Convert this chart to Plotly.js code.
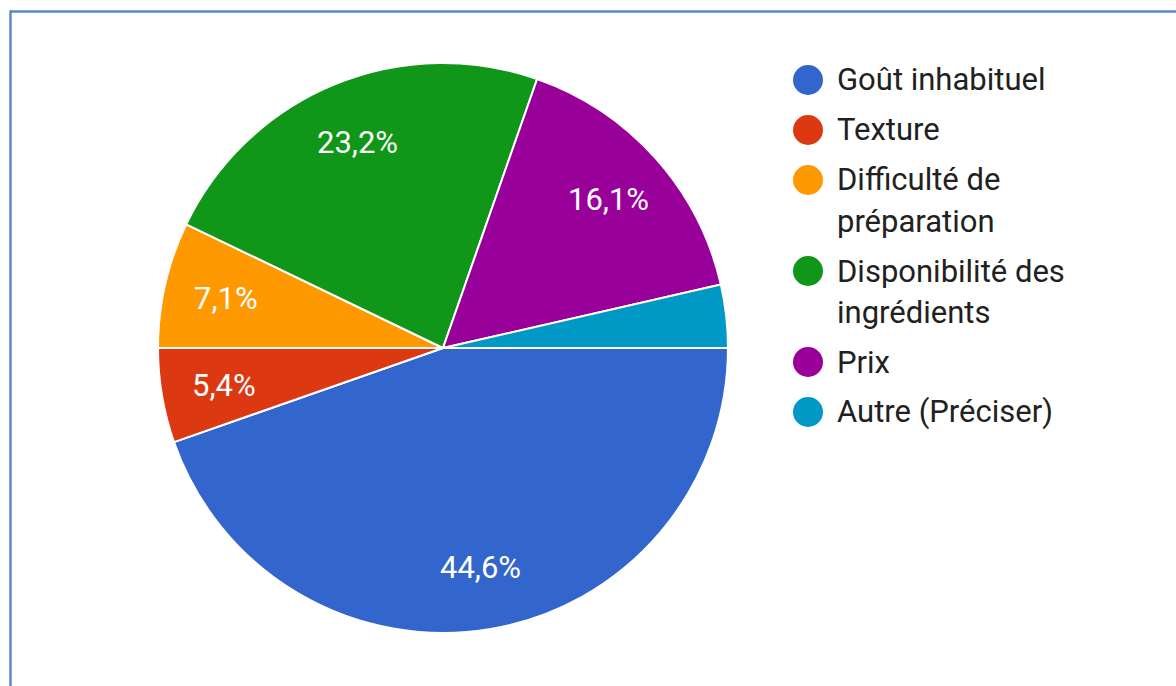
<!DOCTYPE html>
<html>
<head>
<meta charset="utf-8">
<script src="https://cdn.plot.ly/plotly-3.0.1.min.js"></script>
<style>
  html, body { margin: 0; padding: 0; background: #ffffff; }
  #chart { width: 1176px; height: 686px; }
</style>
</head>
<body>
<div id="chart"></div>
<script>
// Survey answers: reasons given (response counts)
const categories = ['Goût inhabituel', 'Texture', 'Difficulté de préparation',
  'Disponibilité des ingrédients', 'Prix', 'Autre (Préciser)'];
const counts = [25, 3, 4, 13, 9, 2];
const sliceColors = ['#3366cc', '#dc3912', '#ff9900', '#109618', '#990099', '#0099c6'];
// Legend wording, broken over lines as in the side key
const legendLabels = ['Goût inhabituel', 'Texture', 'Difficulté de<br>préparation',
  'Disponibilité des<br>ingrédients', 'Prix', 'Autre (Préciser)'];

const W = 1176, H = 686;
const FONT = 'Roboto, "Noto Sans", Arial, sans-serif';

// Pie geometry in pixels
const cx = 443, cy = 348, R = 285;
const startDeg = 90;          // first slice starts at 3 o'clock
const labelRadius = 0.78;     // percentage labels sit at this fraction of the radius

const total = counts.reduce((a, b) => a + b, 0);

const pie = {
  type: 'pie',
  labels: categories,
  values: counts,
  sort: false,
  direction: 'clockwise',
  rotation: startDeg,
  marker: { colors: sliceColors, line: { color: '#ffffff', width: 2 } },
  textinfo: 'none',
  hovertemplate: '%{label}: %{value} (%{percent:.1%})<extra></extra>',
  showlegend: false,
  domain: {
    x: [(cx - R) / W, (cx + R) / W],
    y: [1 - (cy + R) / H, 1 - (cy - R) / H]
  }
};

const shapes = [];
const annotations = [];

// Percentage labels along each slice's middle angle (slices under 5% stay bare)
let acc = 0;
counts.forEach(v => {
  const frac = v / total;
  const mid = (startDeg + (acc + frac / 2) * 360) * Math.PI / 180;
  acc += frac;
  if (frac < 0.05) return;
  const px = cx + labelRadius * R * Math.sin(mid);
  const py = cy - labelRadius * R * Math.cos(mid);
  annotations.push({
    xref: 'paper', yref: 'paper',
    x: px / W, y: 1 - py / H,
    xanchor: 'center', yanchor: 'middle',
    text: (frac * 100).toFixed(1).replace('.', ',') + '%',
    showarrow: false,
    font: { family: FONT, size: 31, color: '#ffffff' }
  });
});

// Hand-built key: round swatches with wrapped labels
const keyDotX = 808, keyTextX = 835;
const lineStep = 41, itemGap = 50;
let y = 80;
legendLabels.forEach((lab, i) => {
  const lines = lab.split('<br>');
  shapes.push({
    type: 'circle', xref: 'paper', yref: 'paper',
    xsizemode: 'pixel', ysizemode: 'pixel',
    xanchor: keyDotX / W, yanchor: 1 - y / H,
    x0: -15, x1: 15, y0: -15, y1: 15,
    fillcolor: sliceColors[i], line: { width: 0 }
  });
  lines.forEach((ln, j) => {
    annotations.push({
      xref: 'paper', yref: 'paper',
      x: keyTextX / W, y: 1 - (y + j * lineStep) / H,
      xanchor: 'left', yanchor: 'middle',
      text: ln, showarrow: false,
      font: { family: FONT, size: 31, color: '#212121' }
    });
  });
  y += (lines.length - 1) * lineStep + itemGap;
});

// Frame lines along the top and left edges
const frameColor = '#5b88c8';
shapes.push({
  type: 'line', xref: 'paper', yref: 'paper',
  x0: 10 / W, x1: 1, y0: 1 - 11.5 / H, y1: 1 - 11.5 / H,
  line: { color: frameColor, width: 2.5 }
});
shapes.push({
  type: 'line', xref: 'paper', yref: 'paper',
  x0: 10.5 / W, x1: 10.5 / W, y0: 0, y1: 1 - 10.5 / H,
  line: { color: frameColor, width: 2.5 }
});

const layout = {
  width: W, height: H,
  margin: { l: 0, r: 0, t: 0, b: 0 },
  paper_bgcolor: '#ffffff',
  plot_bgcolor: '#ffffff',
  separators: ', ',
  font: { family: FONT },
  shapes: shapes,
  annotations: annotations,
  showlegend: false
};

Plotly.newPlot('chart', [pie], layout, { displayModeBar: false, staticPlot: true });
</script>
</body>
</html>
